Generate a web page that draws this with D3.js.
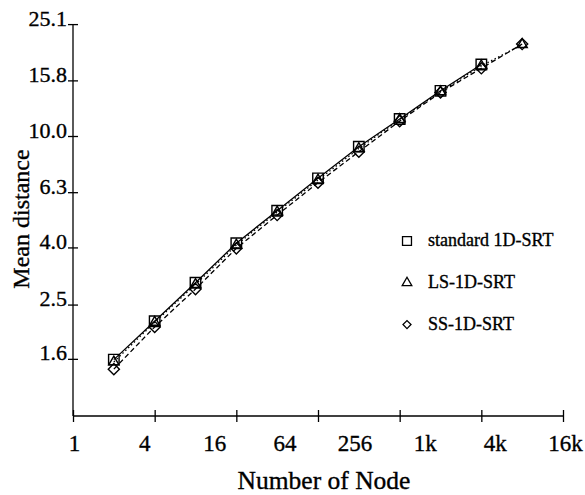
<!DOCTYPE html>
<html>
<head>
<meta charset="utf-8">
<script src="https://cdn.jsdelivr.net/npm/d3@7/dist/d3.min.js"></script>
<style>
  body { margin: 0; background: #fff; }
  svg { display: block; font-family: "Liberation Serif", "DejaVu Serif", serif; }
  svg text { stroke: #000; stroke-width: 0.35px; fill: #000; }
</style>
</head>
<body>
<svg id="chart" width="585" height="495"></svg>
<script>
// node counts (log2 positions) and mean distance
var nodes = [2, 4, 8, 16, 32, 64, 128, 256, 512, 1024, 2048];
var standard = [1.59, 2.18, 2.99, 4.14, 5.41, 7.06, 9.16, 11.5, 14.5, 18.0];
var ls = [1.56, 2.16, 2.95, 4.08, 5.35, 6.96, 9.02, 11.45, 14.4, 17.8, 21.2];
var ss = [1.47, 2.08, 2.84, 3.97, 5.22, 6.81, 8.79, 11.3, 14.3, 17.45, 21.3];

var xTickValues = [1, 4, 16, 64, 256, 1024, 4096];
var xTickLabels = ["1", "4", "16", "64", "256", "1k", "4k", "16k"];
var yTickValues = [1.6, 2.5, 4.0, 6.3, 10.0, 15.8, 25.1];
var legendNames = ["standard 1D-SRT", "LS-1D-SRT", "SS-1D-SRT"];

var svg = d3.select("#chart");

var x = d3.scaleLog().base(2).domain([1, 4096]).range([73, 563]);
var y = d3.scaleLog().domain([1, 25.12]).range([416, 24]);
// the printed labels sit evenly spaced, independent of the tick marks
var xLabelPos = d3.scalePoint().domain(xTickLabels).range([74, 565]);

// y axis
var gy = svg.append("g")
    .attr("transform", "translate(73,0)")
    .call(d3.axisLeft(y).tickValues(yTickValues).tickFormat(d3.format(".1f")).tickSizeOuter(0));
gy.select(".domain").attr("d", "M0," + y(25.12) + "V" + y(1)).attr("stroke-width", 1.3);
gy.selectAll(".tick line").attr("x1", 5).attr("x2", -5).attr("stroke-width", 1.3);
gy.selectAll(".tick text")
    .attr("x", -6).attr("dy", "0.05em")
    .style("font-size", "22px").style("font-family", "Liberation Serif");

// x axis
var gx = svg.append("g")
    .attr("transform", "translate(0,416)")
    .call(d3.axisBottom(x).tickValues(xTickValues).tickFormat("").tickSizeOuter(0));
gx.select(".domain").attr("d", "M73,0H563").attr("stroke-width", 1.3);
gx.selectAll(".tick line").attr("y1", -6).attr("y2", 6).attr("stroke-width", 1.3);

var gxl = svg.append("g")
    .attr("transform", "translate(0,416)")
    .call(d3.axisBottom(xLabelPos).tickSize(0));
gxl.select(".domain").remove();
gxl.selectAll(".tick text")
    .attr("y", 35).attr("dy", 0)
    .style("font-size", "23px").style("font-family", "Liberation Serif");

// axis titles
svg.append("text")
    .attr("x", 324).attr("y", 489)
    .attr("text-anchor", "middle")
    .style("font-size", "25.5px")
    .text("Number of Node");

svg.append("text")
    .attr("transform", "translate(29,219) rotate(-90)")
    .attr("text-anchor", "middle")
    .style("font-size", "24px")
    .text("Mean distance");

// series
var diamond = { draw: function (ctx, size) { d3.symbolSquare.draw(ctx, size); } };
var series = [
  { values: standard, dash: null, symbol: d3.symbolSquare, size: 110, rot: 0, legendSize: 80 },
  { values: ls, dash: "1.5,2.5", symbol: d3.symbolTriangle, size: 45, rot: 0, legendSize: 40 },
  { values: ss, dash: "5,3", symbol: diamond, size: 62, rot: 45, legendSize: 32 }
];

var line = d3.line()
    .x(function (d) { return x(d[0]); })
    .y(function (d) { return y(d[1]); });

series.forEach(function (s) {
  var pts = s.values.map(function (v, i) { return [nodes[i], v]; });
  svg.append("path")
      .attr("d", line(pts))
      .attr("fill", "none")
      .attr("stroke", "#000")
      .attr("stroke-width", 1.3)
      .attr("stroke-dasharray", s.dash);
  s.pts = pts;
});

series.forEach(function (s) {
  svg.append("g").selectAll("path")
      .data(s.pts)
      .join("path")
      .attr("transform", function (d) {
        return "translate(" + x(d[0]) + "," + y(d[1]) + ") rotate(" + s.rot + ")";
      })
      .attr("d", d3.symbol().type(s.symbol).size(s.size))
      .attr("fill", "none")
      .attr("stroke", "#000")
      .attr("stroke-width", 1.4);
});

// legend
var legend = svg.append("g").attr("transform", "translate(407,241)");
series.forEach(function (s, i) {
  var row = legend.append("g").attr("transform", "translate(0," + (i * 41.8) + ")");
  row.append("path")
      .attr("transform", "rotate(" + s.rot + ")")
      .attr("d", d3.symbol().type(s.symbol).size(s.legendSize))
      .attr("fill", "none")
      .attr("stroke", "#000")
      .attr("stroke-width", 1.3);
  row.append("text")
      .attr("x", 21).attr("y", 5)
      .style("font-size", "18px")
      .text(legendNames[i]);
});
</script>
</body>
</html>
